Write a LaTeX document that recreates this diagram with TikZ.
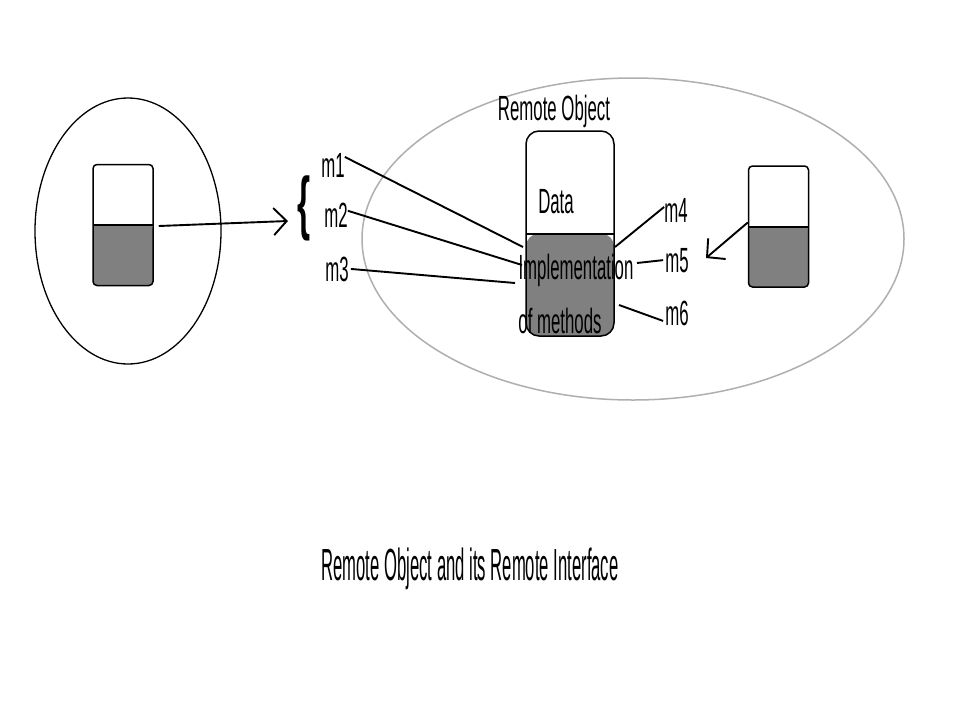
\documentclass[tikz,border=0pt]{standalone}
\usepackage{fontspec}
\newfontfamily\labelfont[FakeStretch=0.48]{Liberation Sans}
\newfontfamily\captionfont[FakeStretch=0.37]{Liberation Sans}
\usetikzlibrary{arrows.meta,calc}
\definecolor{methodgray}{RGB}{128,128,128}
\definecolor{hostgray}{RGB}{175,175,175}
\tikzset {>={Straight Barb[length=13pt,width=27pt]}}
\tikzset{
  tag/.style={font=\labelfont\fontsize{35}{35}\selectfont, inner sep=0pt},
  wire/.style={line width=1.9pt},
  halfbox/.style={draw, line width=1.5pt, inner sep=0pt,
    path picture={
      \fill[methodgray] (path picture bounding box.west) rectangle (path picture bounding box.south east);
      \draw[line width=2pt] (path picture bounding box.west) -- (path picture bounding box.east);}},
  stub/.style={halfbox, rounded corners=4pt, minimum width=60pt, minimum height=121pt},
}

\begin{document}
\begin{tikzpicture}[x=1pt,y=-1pt]

% Page, pixel coordinates with y going down
\fill [white] (0,0) rectangle (960,720);
\useasboundingbox (0,0) rectangle (960,720);

% The two hosts
\draw [line width=1.3pt] (128,231) ellipse [x radius=93, y radius=133];
\draw [hostgray,line width=1.5pt] (633,239) ellipse [x radius=271, y radius=161];

% Stub on the client, skeleton on the right, and the remote object
\node [stub] (client) at (123,225) {};
\node [stub] (skel) at (778.5,226.5) {};
\node [halfbox, rounded corners=13pt, minimum width=88pt, minimum height=205pt]
  (obj) at (570,233.5) {};

% Texts of the remote object
\node [tag,anchor=base] (title) at (554,120) {Remote Object};
\node [tag,anchor=base] (data) at (556,213) {Data};
\node [tag,anchor=base] (impl) at (576,279) {Implementation};
\node [tag,anchor=base] (meth) at (560,333) {of methods};

% Method names
\node [tag,anchor=base] (m1) at (333,177) {m1};
\node [tag,anchor=base] (m2) at (336,227) {m2};
\node [tag,anchor=base] (m3) at (337,281) {m3};
\node [tag,anchor=base] (m4) at (676,222) {m4};
\node [tag,anchor=base] (m5) at (677,272) {m5};
\node [tag,anchor=base] (m6) at (677,325) {m6};
\node [font=\labelfont\bfseries\fontsize{70}{70}\selectfont,inner sep=0pt]
  (brace) at (304,208) {\{};

% Ends of the method lines at the object
\coordinate (c1) at (523,247);
\coordinate (c2) at (522,265);
\coordinate (c3) at (515,283);
\coordinate (c4) at (615,247);
\coordinate (c5) at (637,263);
\coordinate (c6) at (619,305);

\draw [wire] ([yshift=8pt]m1.east) -- (c1);
\draw [wire] ([yshift=4pt]m2.east) -- (c2);
\draw [wire] ([xshift=2pt]m3.east) -- (c3);
\draw [wire] ([yshift=3pt]m4.west) -- (c4);
\draw [wire] ([xshift=-2pt]m5.west) -- (c5);
\draw [wire] ([yshift=-8pt,xshift=-2pt]m6.west) -- (c6);

% Calls going to the interface
\coordinate (tipL) at (288,221);
\coordinate (tipR) at (706,258);
\draw [wire,->] ([xshift=5pt,yshift=-1pt]client.east) -- (tipL);
\draw [wire,->] ([yshift=4pt]skel.west) -- (tipR);

% Caption
\node [font=\captionfont\fontsize{45}{45}\selectfont,inner sep=0pt,anchor=base]
  (caption) at (470,580) {Remote Object and its Remote Interface};
\end{tikzpicture}
\end{document}
